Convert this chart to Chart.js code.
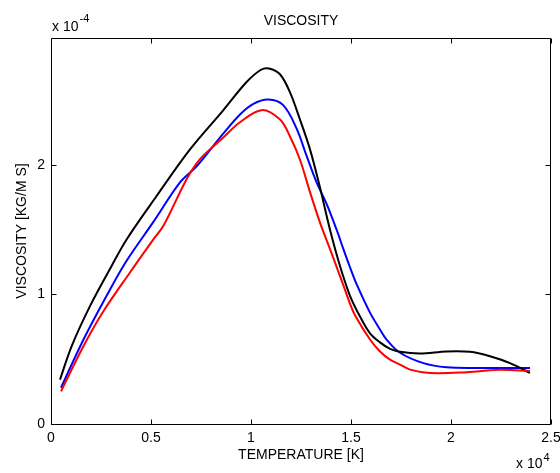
<!DOCTYPE html>
<html>
<head>
<meta charset="utf-8">
<script src="https://cdn.jsdelivr.net/npm/chart.js@4.4.1/dist/chart.umd.min.js"></script>
<style>
  html, body { margin: 0; padding: 0; background: #fff; }
  #wrap { width: 560px; height: 473px; }
</style>
</head>
<body>
<div id="wrap"><canvas id="c" width="560" height="473"></canvas></div>
<script>
// Temperature in units of 1e4 K, viscosity in units of 1e-4 kg/(m s)
const blackT = [0.045,0.103,0.195,0.303,0.378,0.528,0.695,0.86,0.978,1.05,1.09,1.145,1.195,1.245,1.295,1.345,1.395,1.445,1.495,1.545,1.595,1.645,1.695,1.745,1.845,1.978,2.095,2.195,2.295,2.395];
const blackV = [0.343,0.60,0.91,1.22,1.425,1.76,2.12,2.42,2.64,2.735,2.745,2.70,2.56,2.35,2.12,1.825,1.50,1.22,0.99,0.83,0.70,0.63,0.58,0.557,0.544,0.56,0.557,0.523,0.47,0.394];

const blueT = [0.05,0.162,0.278,0.378,0.512,0.645,0.728,0.86,0.945,1.01,1.087,1.162,1.228,1.278,1.328,1.378,1.428,1.462,1.495,1.528,1.595,1.645,1.678,1.745,1.862,1.978,2.145,2.395];
const blueV = [0.28,0.65,0.99,1.26,1.56,1.865,1.99,2.24,2.39,2.47,2.505,2.46,2.28,2.07,1.865,1.70,1.50,1.35,1.21,1.08,0.86,0.73,0.652,0.55,0.47,0.438,0.433,0.433];

const redT = [0.05,0.162,0.262,0.395,0.512,0.562,0.678,0.745,0.86,0.945,1.053,1.145,1.195,1.245,1.295,1.345,1.395,1.412,1.462,1.495,1.52,1.595,1.645,1.695,1.745,1.795,1.895,2.078,2.245,2.395];
const redV = [0.252,0.60,0.87,1.17,1.425,1.53,1.89,2.045,2.21,2.33,2.423,2.35,2.22,2.04,1.79,1.555,1.35,1.28,1.07,0.93,0.84,0.652,0.56,0.497,0.459,0.42,0.394,0.40,0.418,0.41];

const xTicks = [0, 0.5, 1, 1.5, 2, 2.5];
const xTickLabels = ['0', '0.5', '1', '1.5', '2', '2.5'];
const yTicks = [0, 1, 2];
const yTickLabels = ['0', '1', '2'];

const FONT = '"Liberation Sans", Arial, Helvetica, sans-serif';
const FS = 14;

function pts(t, v) { return t.map((x, i) => ({ x: x, y: v[i] })); }

const boxPlugin = {
  id: 'matlabBox',
  beforeDatasetsDraw(chart) {
    const { ctx, chartArea, scales } = chart;
    const L = Math.floor(chartArea.left) + 0.5;
    const R = Math.floor(chartArea.right) - 0.5;
    const T = Math.floor(chartArea.top) + 0.5;
    const B = Math.floor(chartArea.bottom) + 0.5;
    ctx.save();
    ctx.strokeStyle = '#000';
    ctx.lineWidth = 1;
    ctx.beginPath();
    ctx.rect(L, T, R - L, B - T);
    const tl = 5;
    scales.x.ticks.forEach(tk => {
      const px = Math.round(scales.x.getPixelForValue(tk.value)) + 0.5;
      ctx.moveTo(px, B); ctx.lineTo(px, B - tl);
      ctx.moveTo(px, T); ctx.lineTo(px, T + tl);
    });
    scales.y.ticks.forEach(tk => {
      const py = Math.round(scales.y.getPixelForValue(tk.value)) + 0.5;
      ctx.moveTo(L, py); ctx.lineTo(L + tl, py);
      ctx.moveTo(R, py); ctx.lineTo(R - tl, py);
    });
    ctx.stroke();
    ctx.restore();
  },
  afterDraw(chart) {
    const { ctx, chartArea } = chart;
    ctx.save();
    ctx.fillStyle = '#000';
    ctx.textBaseline = 'alphabetic';
    ctx.textAlign = 'left';
    ctx.font = FS + 'px ' + FONT;
    const x0 = chartArea.left + 1;
    ctx.fillText('x 10', x0, 31);
    const w1 = ctx.measureText('x 10').width;
    ctx.font = '11px ' + FONT;
    ctx.fillText('-4', x0 + w1 + 1, 22);
    ctx.font = FS + 'px ' + FONT;
    const x1 = 516;
    ctx.fillText('x 10', x1, 468);
    const w2 = ctx.measureText('x 10').width;
    ctx.font = '11px ' + FONT;
    ctx.fillText('4', x1 + w2 + 1, 461);
    ctx.restore();
  }
};

new Chart(document.getElementById('c'), {
  type: 'line',
  data: {
    datasets: [
      { label: 'red', data: pts(redT, redV), borderColor: '#ff0000', borderWidth: 2, order: 0 },
      { label: 'black', data: pts(blackT, blackV), borderColor: '#000000', borderWidth: 2, order: 1 },
      { label: 'blue', data: pts(blueT, blueV), borderColor: '#0000ff', borderWidth: 2, order: 2 }
    ]
  },
  options: {
    responsive: false,
    animation: false,
    elements: {
      point: { radius: 0, hoverRadius: 0 },
      line: { tension: 0.35, fill: false }
    },
    layout: { padding: { left: 0, right: 9, top: 0, bottom: 0 } },
    plugins: {
      legend: { display: false },
      tooltip: { enabled: false },
      title: {
        display: true,
        text: 'VISCOSITY',
        fullSize: false,
        color: '#000',
        font: { family: FONT, size: FS, weight: 'normal', lineHeight: 1.2 },
        padding: { top: 12.6, bottom: 8.6 }
      }
    },
    scales: {
      x: {
        type: 'linear',
        min: 0,
        max: 2.5,
        afterBuildTicks: s => { s.ticks = xTicks.map(v => ({ value: v })); },
        afterFit: s => { s.height = 49; s.paddingLeft = 0; s.paddingRight = 0; },
        grid: { display: false, drawTicks: false },
        border: { display: false },
        ticks: {
          autoSkip: false,
          maxRotation: 0,
          padding: 6,
          color: '#000',
          font: { family: FONT, size: FS },
          callback: (v) => { const i = xTicks.indexOf(v); return i >= 0 ? xTickLabels[i] : ''; }
        },
        title: {
          display: true,
          text: 'TEMPERATURE [K]',
          color: '#000',
          font: { family: FONT, size: FS, lineHeight: 1.2 },
          padding: { top: 0, bottom: 9.6 }
        }
      },
      y: {
        type: 'linear',
        min: 0,
        max: 2.98,
        afterBuildTicks: s => { s.ticks = yTicks.map(v => ({ value: v })); },
        afterFit: s => { s.width = 51; s.paddingTop = 0; s.paddingBottom = 0; },
        grid: { display: false, drawTicks: false },
        border: { display: false },
        ticks: {
          autoSkip: false,
          padding: 6,
          color: '#000',
          font: { family: FONT, size: FS },
          callback: (v) => { const i = yTicks.indexOf(v); return i >= 0 ? yTickLabels[i] : ''; }
        },
        title: {
          display: true,
          text: 'VISCOSITY [KG/M S]',
          color: '#000',
          font: { family: FONT, size: FS, lineHeight: 1.2 },
          padding: { top: 13.6, bottom: 0 }
        }
      }
    }
  },
  plugins: [boxPlugin]
});
</script>
</body>
</html>
